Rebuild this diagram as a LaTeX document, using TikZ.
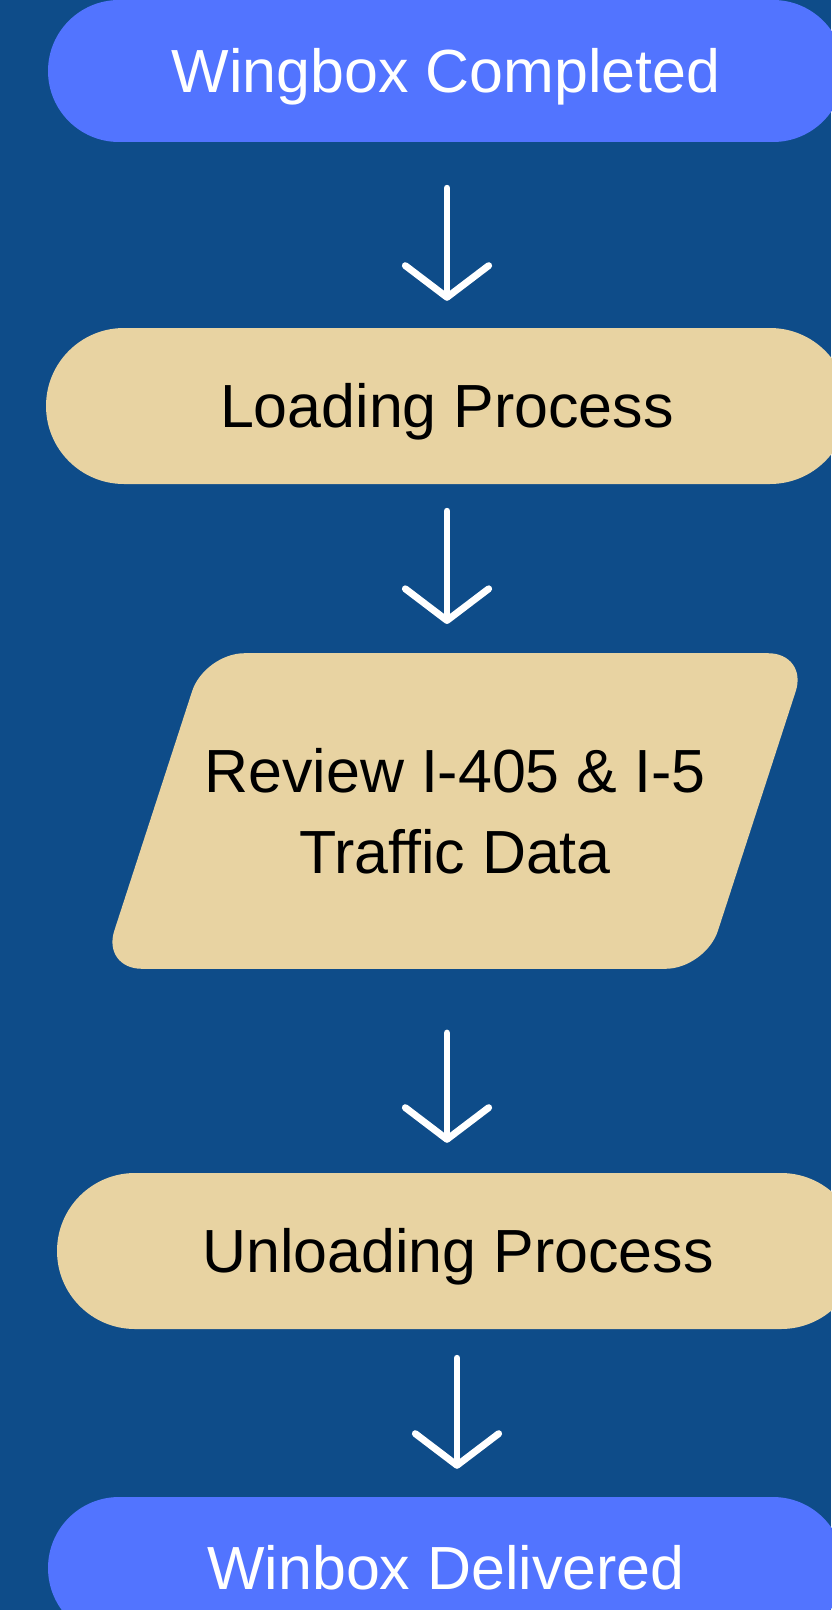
\documentclass[tikz,border=0pt]{standalone}
\usepackage{fontspec}
\setmainfont{Liberation Sans}
\usepackage{xcolor}
\usetikzlibrary{arrows.meta,shapes.geometric}
\definecolor{bgblue}{RGB}{14,76,137}
\definecolor{boxblue}{RGB}{82,116,255}
\definecolor{sand}{RGB}{232,211,162}

\begin{document}
\begin{tikzpicture}[
    every node/.style={font=\fontsize{52}{69}\selectfont},
    pill/.style={rectangle, rounded corners=2.34cm, minimum height=4.68cm, text height=37pt, text depth=0pt},
    endbox/.style={pill, fill=boxblue, text=white, rounded corners=2.13cm, minimum height=4.26cm, minimum width=23.88cm},
    procbox/.style={pill, fill=sand, text=black},
    flow/.style={draw=white, line width=5.9pt, line cap=round, -{Straight Barb[round,length=0.95cm,width=2.5cm]}}
  ]
      \useasboundingbox (0,0) rectangle (24.93,-48.3);
      \fill[bgblue] (0,0) rectangle (24.93,-48.3);
      \node[endbox] (A) at (13.38,-2.13) {Wingbox Completed};
      \node[procbox, minimum width=24.06cm] (B) at (13.41,-12.18) {Loading Process};
      \node[trapezium, trapezium left angle=72, trapezium right angle=108, trapezium stretches=true,
            inner xsep=0pt, inner ysep=2.85cm, minimum width=20.61cm, minimum height=9.42cm,
            rounded corners=1.2cm, fill=sand, align=center] (C) at (13.65,-24.33) {Review I-405 \& I-5\\Traffic Data};
      \node[procbox, minimum width=24.06cm] (D) at (13.74,-37.53) {Unloading Process};
      \node[endbox] (E) at (13.38,-47.04) {Winbox Delivered};
        % arrows
      \coordinate (m) at (13.41,0);
      \coordinate (n) at (13.71,0);
      \draw[flow, shorten <=1.38cm, shorten >=0.81cm] (A.south -| m) -- (B.north -| m);
      \draw[flow, shorten <=0.81cm, shorten >=0.87cm] (B.south -| m) -- (C.north -| m);
      \draw[flow, shorten <=1.92cm, shorten >=0.9cm] (C.south -| m) -- (D.north -| m);
      \draw[flow, shorten <=0.87cm, shorten >=0.84cm] (D.south -| n) -- (E.north -| n);
    \end{tikzpicture}
\end{document}
